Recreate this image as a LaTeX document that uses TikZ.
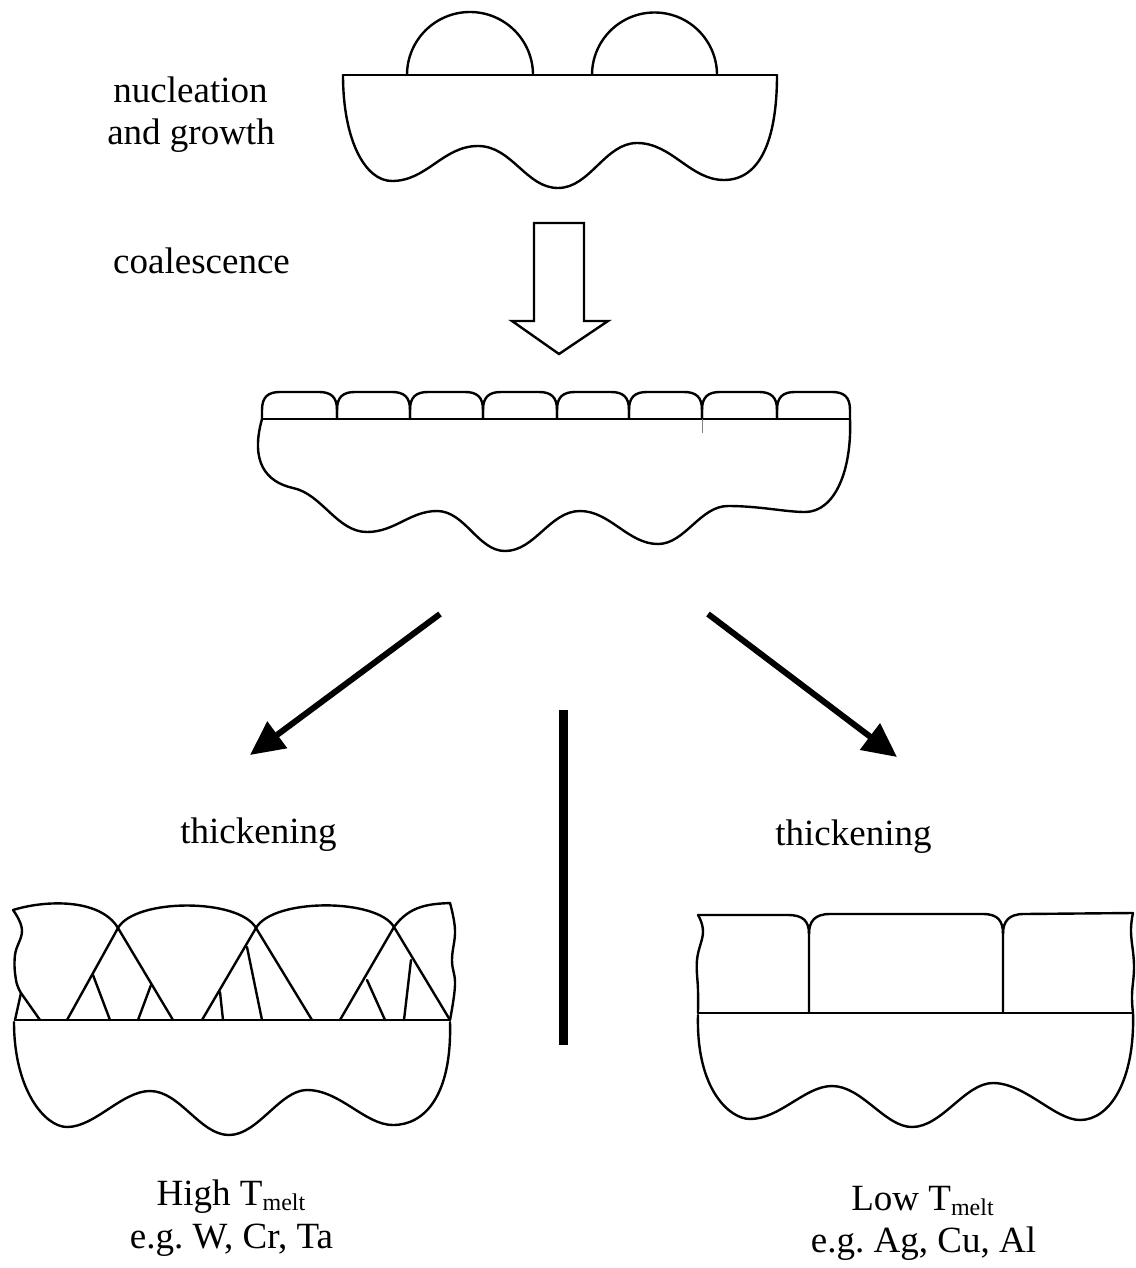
\documentclass[tikz,border=0pt]{standalone}
\usepackage{fontspec}
\setmainfont{Liberation Serif}
\usetikzlibrary{arrows.meta}
\frenchspacing
\newcommand{\melt}{\raisebox{-5pt}{\fontsize{24}{24}\selectfont melt}}
\begin{document}
\begin{tikzpicture}[x=1pt,y=-1pt,
  outline/.style={line width=2.4pt, line join=round, line cap=round},
  wave/.style={outline, smooth, tension=0.7},
  lbl/.style={anchor=base, inner sep=0pt, font=\fontsize{37}{42}\selectfont},
  flow/.style={line width=6pt, -{Triangle[length=34pt,width=32pt]}},
  bigarrow/.style={line width=2.4pt, line join=miter, fill=white}]
\useasboundingbox (0,0) rectangle (1135,1268);

% ---------- stage 1: nucleation and growth ----------
\draw[outline] (343,75) -- (777,75);
\draw[outline] (407,75) arc[start angle=180, end angle=360, radius=63];
\draw[outline] (592,75) arc[start angle=180, end angle=360, radius=62.5];
\draw[outline] (343,75) .. controls (343,140) and (365,181) .. (392,181)
  .. controls (427,181) and (443,146) .. (478,146)
  .. controls (512,146) and (526,188) .. (558,188)
  .. controls (590,188) and (605,143) .. (637,143)
  .. controls (672,143) and (690,180) .. (724,180)
  .. controls (760,180) and (777,140) .. (777,75);

\node[lbl] (nuc1) at (190.5,103) {nucleation};
\node[lbl] (nuc2) at (191,145) {and growth};
\node[lbl] (coal) at (201.5,273) {coalescence};

% hollow block arrow
\draw[bigarrow] (534,223) -- (584,223) -- (584,321) -- (608,321) -- (559,354)
  -- (512,321) -- (534,321) -- cycle;

% ---------- stage 2: coalesced islands ----------
\draw[outline] (262,419) -- (850,419);
\foreach \a/\b in {262/337, 337/410, 410/483, 483/557, 557/629, 629/702, 702/777, 777/850}{
  \draw[outline] (\a,419) -- (\a,410) .. controls (\a,397) and (\a+6,392) .. (\a+18,392)
    -- (\b-18,392) .. controls (\b-6,392) and (\b,397) .. (\b,410) -- (\b,419);
}
\draw[gray, line width=1pt] (702,419) -- (702,433);
\draw[outline] (262,419) .. controls (250,462) and (266,482) .. (293,488)
  .. controls (322,494) and (337,532) .. (367,532)
  .. controls (395,532) and (410,511) .. (437,511)
  .. controls (465,511) and (478,551) .. (505,551)
  .. controls (535,551) and (550,511) .. (580,511)
  .. controls (610,511) and (628,544) .. (658,544)
  .. controls (685,544) and (700,506) .. (728,506)
  .. controls (760,506) and (785,512) .. (805,512)
  .. controls (835,512) and (852,470) .. (850,419);

% ---------- branching arrows and divider ----------
\coordinate (lstart) at (440,614);
\coordinate (ltip) at (250,755);
\coordinate (rstart) at (708,614);
\coordinate (rtip) at (897,757);
\draw[flow] (lstart) -- (ltip);
\draw[flow] (rstart) -- (rtip);
\coordinate (bartop) at (563,710);
\coordinate (barbot) at (563,1045);
\draw[line width=9pt] (bartop) -- (barbot);

\node[lbl] (thl) at (258.5,843) {thickening};
\node[lbl] (thr) at (853.5,845) {thickening};

% ---------- stage 3a: high melting point, V-shaped columns ----------
\draw[outline] (15,1020) -- (450,1020);
% grain caps
\draw[outline] (13,910) .. controls (45,900) and (100,898) .. (118,928);
\draw[outline] (118,928) .. controls (135,898) and (239,898) .. (256,928);
\draw[outline] (256,928) .. controls (273,898) and (377,898) .. (394,927);
\draw[outline] (394,927) .. controls (410,905) and (430,904) .. (450,903);
% side edges
\draw[wave] plot coordinates {(13,910) (22,930) (15,955) (16,980) (21,993)};
\draw[outline] (21,993) -- (15,1020);
\draw[wave] plot coordinates {(450,903) (455,930) (452,960) (455,985) (450,1020)};
% grain boundaries
\draw[outline] (21,993) -- (40,1020);
\draw[outline] (118,928) -- (67,1020);
\draw[outline] (118,928) -- (173,1020);
\draw[outline] (93,975) -- (110,1020);
\draw[outline] (151,985) -- (138,1020);
\draw[outline] (256,928) -- (202,1020);
\draw[outline] (256,928) -- (312,1020);
\draw[outline] (247,947) -- (262,1020);
\draw[outline] (220,992) -- (223,1020);
\draw[outline] (394,927) -- (340,1020);
\draw[outline] (394,927) -- (450,1020);
\draw[outline] (367,980) -- (385,1020);
\draw[outline] (411,960) -- (404,1020);
% substrate
\draw[outline] (14,1022) .. controls (14,1090) and (45,1127) .. (67,1127)
  .. controls (95,1127) and (122,1091) .. (150,1091)
  .. controls (180,1091) and (200,1135) .. (229,1135)
  .. controls (258,1135) and (280,1090) .. (307,1090)
  .. controls (340,1090) and (365,1125) .. (393,1125)
  .. controls (425,1125) and (452,1095) .. (450,1022);

\node[lbl] (hi1) at (231,1205) {High T\melt};
\node[lbl] (hi2) at (231.5,1248) {e.g. W, Cr, Ta};

% ---------- stage 3b: low melting point, columnar grains ----------
\draw[outline] (698,1013) -- (1133,1013);
\draw[wave] plot coordinates {(698,915) (703,932) (697,960) (698,990) (698,1013)};
\draw[wave] plot coordinates {(1133,913) (1131,932) (1134,965) (1132,995) (1133,1013)};
\draw[outline] (698,915) -- (788,915) .. controls (803,915) and (809,921) .. (809,934) -- (809,1013);
\draw[outline] (809,934) .. controls (809,921) and (815,914) .. (830,914) -- (983,914)
  .. controls (998,914) and (1003,921) .. (1003,934) -- (1003,1013);
\draw[outline] (1003,934) .. controls (1003,921) and (1009,914) .. (1024,914) -- (1133,913);
\draw[outline] (698,1015) .. controls (696,1090) and (730,1119) .. (750,1119)
  .. controls (780,1119) and (805,1086) .. (832,1086)
  .. controls (862,1086) and (885,1127) .. (912,1127)
  .. controls (942,1127) and (965,1083) .. (993,1083)
  .. controls (1025,1083) and (1055,1120) .. (1080,1120)
  .. controls (1110,1120) and (1135,1080) .. (1133,1013);

\node[lbl] (lo1) at (922.5,1210) {Low T\melt};
\node[lbl] (lo2) at (923.5,1252) {e.g. Ag, Cu, Al};
\end{tikzpicture}
\end{document}
